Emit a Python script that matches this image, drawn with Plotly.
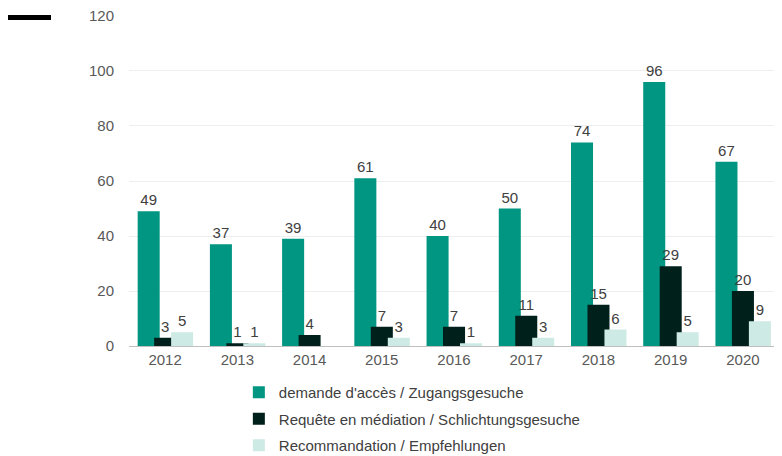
import plotly.graph_objects as go

years = ["2012", "2013", "2014", "2015", "2016", "2017", "2018", "2019", "2020"]
demande = [49, 37, 39, 61, 40, 50, 74, 96, 67]
requete = [3, 1, 4, 7, 7, 11, 15, 29, 20]
recommandation = [5, 1, None, 3, 1, 3, 6, 5, 9]

names = ["demande d'accès / Zugangsgesuche",
         "Requête en médiation / Schlichtungsgesuche",
         "Recommandation / Empfehlungen"]
colors = ["#009682", "#00211B", "#CDEAE5"]

# page has 8px body margin, so the figure is sized to the visible area
W, H = 774, 448
L, R, T, B = 121, 3, 7, 110
bw = 0.305
offsets = [-0.38, -0.152, 0.083]

fig = go.Figure()
for i, (vals, name, col, off) in enumerate(zip([demande, requete, recommandation], names, colors, offsets)):
    fig.add_trace(go.Bar(
        x=years, y=vals, name=name, marker_color=col, marker_line_width=0,
        width=bw, offset=off, legendgroup=f"g{i}",
        text=[("" if v is None else str(v)) for v in vals],
        textposition="outside", cliponaxis=False,
        textfont=dict(size=15, color="#404040", family="Liberation Sans, Arial"),
    ))

pw = W - L - R
ph = H - T - B
fig.add_shape(type="rect", xref="paper", yref="paper",
              x0=(0 - L) / pw, x1=(43 - L) / pw,
              y0=(H - B - 12) / ph, y1=(H - B - 7) / ph,
              fillcolor="#000000", line_width=0)

fig.update_layout(
    width=W, height=H,
    margin=dict(l=L, r=R, t=T, b=B, autoexpand=False),
    barmode="overlay",
    plot_bgcolor="white", paper_bgcolor="white",
    font=dict(family="Liberation Sans, Arial", size=15, color="#595959"),
    showlegend=True,
    legend=dict(orientation="v", x=0.169, xanchor="left", y=-30 / ph, yanchor="top",
                font=dict(size=15, color="#404040"), tracegroupgap=4,
                itemwidth=30),
    uniformtext=dict(minsize=15, mode="show"),
)
fig.update_xaxes(showgrid=False, ticks="", showline=True, linecolor="#BFBFBF", linewidth=1,
                 tickfont=dict(size=15, color="#595959"))
fig.update_yaxes(range=[0, 120.36], tickvals=[0, 20, 40, 60, 80, 100, 120],
                 showgrid=True, gridcolor="#EEEEEE", gridwidth=1,
                 zeroline=False, ticks="", showline=False, ticklabeloverflow="allow",
                 tickfont=dict(size=15, color="#595959"), ticklabelstandoff=14)

fig.write_html("out.html")
